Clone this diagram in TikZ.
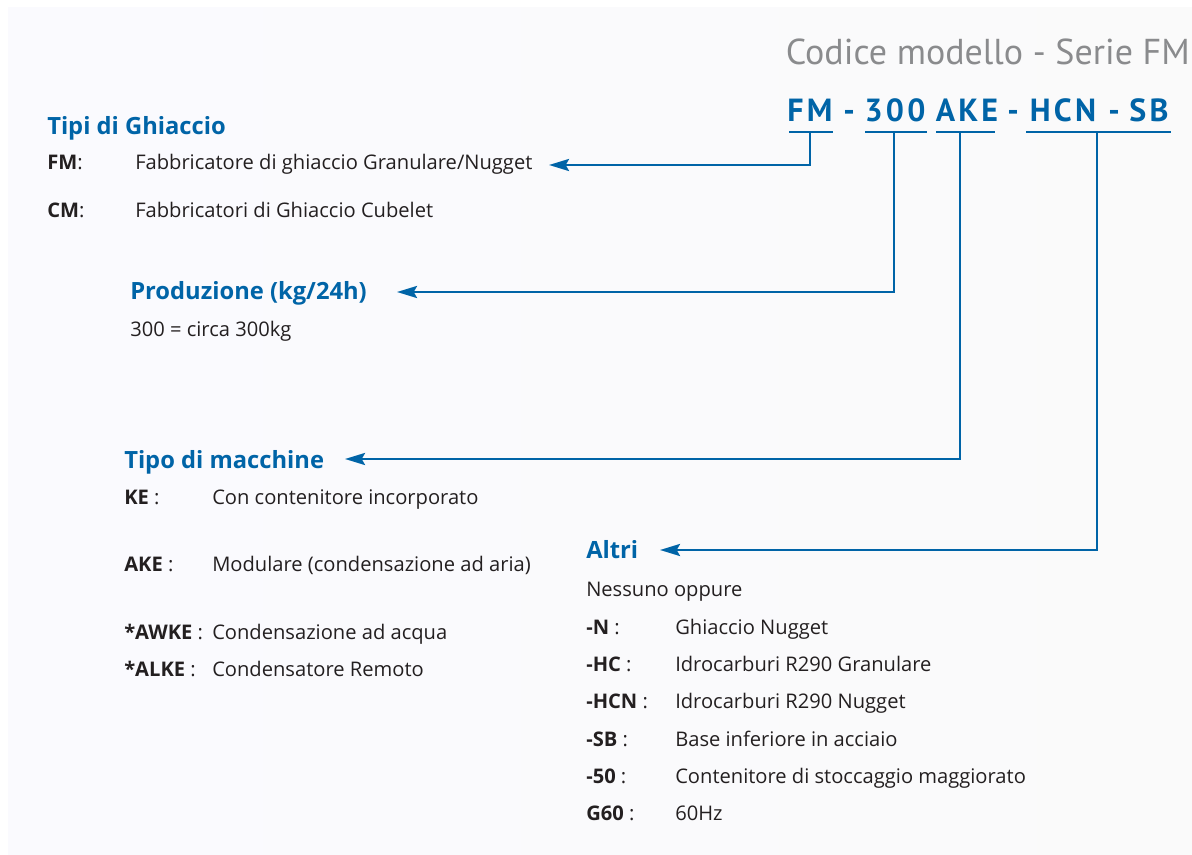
\documentclass[tikz,border=0pt]{standalone}
\usepackage{fontspec}
\setmainfont{Open Sans}
\newfontfamily\ptfont{PT Sans}
\newfontfamily\codefont[LetterSpace=10]{PT Sans}
\usetikzlibrary{arrows.meta}
\definecolor{frblue}{HTML}{0064A7}
\definecolor{frgray}{HTML}{8A8B8D}
\definecolor{frtext}{HTML}{231F20}
\tikzset{
  head/.style={anchor=base west, inner sep=0pt, text=frblue, font=\fontsize{17.8}{20}\selectfont\bfseries},
  lbl/.style={anchor=base west, inner sep=0pt, text=frtext, font=\fontsize{15.1}{18}\selectfont},
  code/.style={anchor=base, inner sep=0pt, text=frblue, font=\fontsize{24}{28}\selectfont\codefont\bfseries},
  link/.style={draw=frblue, line width=2pt, -{Stealth[length=15pt,width=9pt,inset=2.5pt]}},
  uline/.style={draw=frblue, line width=2pt}
}
\begin{document}
\begin{tikzpicture}[x=0.75pt,y=-0.75pt]
            % background
            \fill[white] (0,0) rectangle (1192,855);
            \shade[left color=black!10!blue!2!white, right color=black!2] (8,8) rectangle (1192,855);
            \useasboundingbox (0,0) rectangle (1192,855);

            % title and model code
            \node[anchor=base east, inner sep=0pt, text=frgray, font=\fontsize{27}{31}\selectfont\ptfont] (title) at (1190,65) {Codice modello - Serie FM};
            \node[code] (cFM) at (810,122) {FM};
            \node[code] (s1) at (849,122) {-};
            \node[code] (c300) at (895,122) {300};
            \node[code] (cAKE) at (967,122) {AKE};
            \node[code] (s2) at (1013,122) {-};
            \node[code] (cHCN) at (1063,122) {HCN};
            \node[code] (s3) at (1114,122) {-};
            \node[code] (cSB) at (1149,122) {SB};
            \draw[uline] (789,132) -- (833,132);
            \draw[uline] (865,132) -- (927,132);
            \draw[uline] (936,132) -- (995,132);
            \draw[uline] (1026,132) -- (1171,132);
            \coordinate (uFM) at (810,132);
            \coordinate (u300) at (894,132);
            \coordinate (uAKE) at (960,132);
            \coordinate (uHCN) at (1097,132);

            % Tipi di Ghiaccio
            \node[head] (tGhiaccio) at (47,135) {Tipi di Ghiaccio};
            \node[lbl] (kFM) at (47,170) {\textbf{FM}:};
            \node[lbl] (dFM) at (135,170) {Fabbricatore di ghiaccio Granulare/Nugget};
            \node[lbl] (kCM) at (47,218) {\textbf{CM}:};
            \node[lbl] (dCM) at (135,218) {Fabbricatori di Ghiaccio Cubelet};

            % Produzione
            \node[head] (tProd) at (130,300) {Produzione (kg/24h)};
            \node[lbl] (dProd) at (130,337) {300 = circa 300kg};

            % Tipo di macchine
            \node[head] (tMacch) at (124,468) {Tipo di macchine};
            \node[lbl] (kKE) at (124,504) {\textbf{KE} :};
            \node[lbl] (dKE) at (212,504) {Con contenitore incorporato};
            \node[lbl] (kAKE) at (124,571) {\textbf{AKE} :};
            \node[lbl] (dAKE) at (212,571) {Modulare (condensazione ad aria)};
            \node[lbl] (kAWKE) at (124,639) {\textbf{*AWKE} :};
            \node[lbl] (dAWKE) at (212,639) {Condensazione ad acqua};
            \node[lbl] (kALKE) at (124,676) {\textbf{*ALKE} :};
            \node[lbl] (dALKE) at (212,676) {Condensatore Remoto};

            % Altri
            \node[head] (tAltri) at (586,558) {Altri};
            \node[lbl] (dNessuno) at (586,596) {Nessuno oppure};
            \node[lbl] (kN) at (586,634) {\textbf{-N} :};
            \node[lbl] (dN) at (675,634) {Ghiaccio Nugget};
            \node[lbl] (kHC) at (586,671) {\textbf{-HC} :};
            \node[lbl] (dHC) at (675,671) {Idrocarburi R290 Granulare};
            \node[lbl] (kHCN) at (586,708) {\textbf{-HCN} :};
            \node[lbl] (dHCN) at (675,708) {Idrocarburi R290 Nugget};
            \node[lbl] (kSB) at (586,746) {\textbf{-SB} :};
            \node[lbl] (dSB) at (675,746) {Base inferiore in acciaio};
            \node[lbl] (k50) at (586,783) {\textbf{-50} :};
            \node[lbl] (d50) at (675,783) {Contenitore di stoccaggio maggiorato};
            \node[lbl] (kG60) at (586,820) {\textbf{G60} :};
            \node[lbl] (dG60) at (675,820) {60Hz};

            % connectors
            \coordinate (aFM) at (549,165);
            \coordinate (a300) at (397,292);
            \coordinate (aAKE) at (345,459);
            \coordinate (aHCN) at (660,550);
            \draw[link] (uFM) |- (aFM);
            \draw[link] (u300) |- (a300);
            \draw[link] (uAKE) |- (aAKE);
            \draw[link] (uHCN) |- (aHCN);
\end{tikzpicture}
\end{document}
